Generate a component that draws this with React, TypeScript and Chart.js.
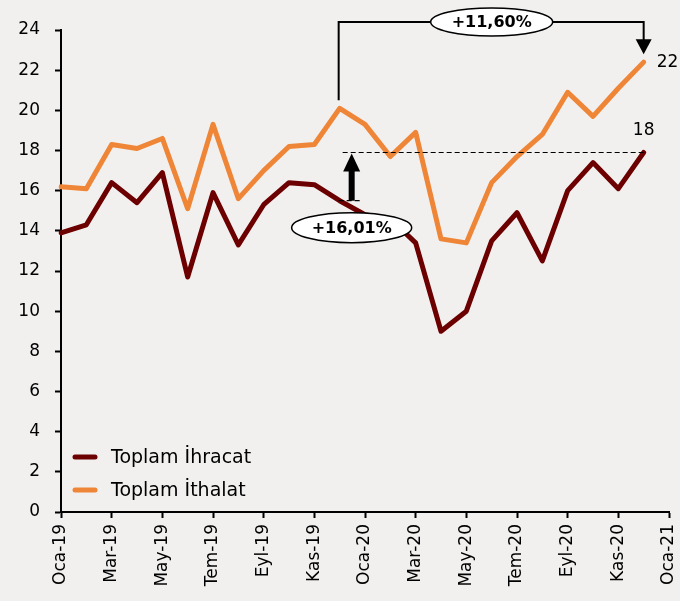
import React, { useEffect, useRef } from "react";
import { Chart, registerables } from "chart.js";

Chart.register(...registerables);

const months = [
  "Oca-19", "Şub-19", "Mar-19", "Nis-19", "May-19", "Haz-19", "Tem-19", "Ağu-19", "Eyl-19", "Eki-19", "Kas-19", "Ara-19",
  "Oca-20", "Şub-20", "Mar-20", "Nis-20", "May-20", "Haz-20", "Tem-20", "Ağu-20", "Eyl-20", "Eki-20", "Kas-20", "Ara-20",
  "Oca-21",
];
const exportsBn = [13.9, 14.3, 16.4, 15.4, 16.9, 11.7, 15.9, 13.3, 15.3, 16.4, 16.3, 15.5, 14.8, 14.6, 13.4, 9.0, 10.0, 13.5, 14.9, 12.5, 16.0, 17.4, 16.1, 17.9];
const importsBn = [16.2, 16.1, 18.3, 18.1, 18.6, 15.1, 19.3, 15.6, 17.0, 18.2, 18.3, 20.1, 19.3, 17.7, 18.9, 13.6, 13.4, 16.4, 17.7, 18.8, 20.9, 19.7, 21.1, 22.4];
const seriesNames = ["Toplam İhracat", "Toplam İthalat"];
const endLabels = ["18", "22"];
const changeLabels = ["+16,01%", "+11,60%"];
const compareFrom = 11;
const compareTo = 23;
const yMin = 0;
const yMax = 24;
const yStep = 2;

const DARK = "#6C0000";
const ORANGE = "#EF8536";
const BG = "#F2F0EF";
const FONT = "'DejaVu Sans', sans-serif";

function ellipseLabel(ctx: CanvasRenderingContext2D, cx: number, cy: number, rx: number, ry: number, text: string) {
  ctx.beginPath();
  ctx.ellipse(cx, cy, rx, ry, 0, 0, Math.PI * 2);
  ctx.fillStyle = "#fff";
  ctx.fill();
  ctx.lineWidth = 1.5;
  ctx.strokeStyle = "#000";
  ctx.stroke();
  ctx.fillStyle = "#000";
  ctx.font = `bold 16px ${FONT}`;
  ctx.textAlign = "center";
  ctx.textBaseline = "middle";
  ctx.fillText(text, cx, cy + 1);
}

const bgPlugin = {
  id: "bg",
  beforeDraw(chart: any) {
    const { ctx, width, height } = chart;
    ctx.save();
    ctx.fillStyle = BG;
    ctx.fillRect(0, 0, width, height);
    ctx.restore();
  },
};

const annotPlugin = {
  id: "annot",
  afterDatasetsDraw(chart: any) {
    const { ctx } = chart;
    const x = chart.scales.x;
    const y = chart.scales.y;
    const xs = x.getPixelForValue(compareFrom);
    const xe = x.getPixelForValue(compareTo);
    const yExpS = y.getPixelForValue(exportsBn[compareFrom]);
    const yExpE = y.getPixelForValue(exportsBn[compareTo]);
    const yImpS = y.getPixelForValue(importsBn[compareFrom]);
    const yImpE = y.getPixelForValue(importsBn[compareTo]);
    ctx.save();

    // dashed reference lines
    ctx.strokeStyle = "#000";
    ctx.lineWidth = 1.2;
    ctx.setLineDash([5, 3]);
    ctx.beginPath();
    ctx.moveTo(xs + 3, yExpE);
    ctx.lineTo(xe, yExpE);
    ctx.moveTo(xs - 1, yExpS);
    ctx.lineTo(xs + 21, yExpS);
    ctx.stroke();
    ctx.setLineDash([]);

    // up arrow
    const ax = xs + 12;
    ctx.fillStyle = "#000";
    ctx.fillRect(ax - 3, yExpE + 18, 6, yExpS - (yExpE + 18));
    ctx.beginPath();
    ctx.moveTo(ax, yExpE + 1);
    ctx.lineTo(ax - 8.5, yExpE + 19);
    ctx.lineTo(ax + 8.5, yExpE + 19);
    ctx.closePath();
    ctx.fill();

    ellipseLabel(ctx, ax, yExpS + 27, 60, 15, changeLabels[0]);

    // bracket
    const top = chart.chartArea.top - 8;
    ctx.strokeStyle = "#000";
    ctx.lineWidth = 2;
    ctx.beginPath();
    ctx.moveTo(xs - 1, yImpS - 8);
    ctx.lineTo(xs - 1, top);
    ctx.lineTo(xe, top);
    ctx.lineTo(xe, yImpE - 22);
    ctx.stroke();
    ctx.fillStyle = "#000";
    ctx.beginPath();
    ctx.moveTo(xe, yImpE - 8);
    ctx.lineTo(xe - 8, yImpE - 23);
    ctx.lineTo(xe + 8, yImpE - 23);
    ctx.closePath();
    ctx.fill();

    ellipseLabel(ctx, (xs + xe) / 2, top, 61, 14, changeLabels[1]);

    // end labels
    ctx.fillStyle = "#000";
    ctx.font = `17px ${FONT}`;
    ctx.textBaseline = "middle";
    ctx.textAlign = "left";
    ctx.fillText(endLabels[1], xe + 13, yImpE);
    ctx.textAlign = "center";
    ctx.fillText(endLabels[0], xe, yExpE - 22);

    // legend
    const colors = [DARK, ORANGE];
    const ly = [457, 490];
    const left = chart.chartArea.left;
    ctx.lineCap = "round";
    ctx.lineWidth = 5;
    ctx.font = `19px ${FONT}`;
    ctx.textAlign = "left";
    for (let i = 0; i < seriesNames.length; i++) {
      ctx.strokeStyle = colors[i];
      ctx.beginPath();
      ctx.moveTo(left + 14, ly[i]);
      ctx.lineTo(left + 34, ly[i]);
      ctx.stroke();
      ctx.fillStyle = "#000";
      ctx.fillText(seriesNames[i], left + 50, ly[i] + 1);
    }
    ctx.restore();
  },
};

export default function App() {
  const ref = useRef<HTMLCanvasElement | null>(null);
  useEffect(() => {
    if (!ref.current) return;
    const chart = new Chart(ref.current, {
      type: "line",
      data: {
        labels: months,
        datasets: [
          {
            label: seriesNames[0],
            data: exportsBn,
            borderColor: DARK,
            backgroundColor: DARK,
            borderWidth: 5,
            pointRadius: 0,
            tension: 0,
            borderJoinStyle: "round",
            borderCapStyle: "round",
          },
          {
            label: seriesNames[1],
            data: importsBn,
            borderColor: ORANGE,
            backgroundColor: ORANGE,
            borderWidth: 5,
            pointRadius: 0,
            tension: 0,
            borderJoinStyle: "round",
            borderCapStyle: "round",
          },
        ],
      },
      options: {
        responsive: false,
        animation: false,
        devicePixelRatio: 1,
        layout: { padding: { top: 30, right: 11, left: 0, bottom: 0 } },
        plugins: { legend: { display: false }, tooltip: { enabled: false } },
        scales: {
          x: {
            type: "category",
            offset: false,
            afterFit: (s: any) => {
              s.height = 89;
              s.paddingLeft = 0;
              s.paddingRight = 0;
            },
            grid: {
              drawOnChartArea: false,
              drawTicks: true,
              tickLength: 6,
              tickWidth: 2,
              tickColor: (c: any) => (c.index % 2 === 0 ? "#000" : "rgba(0,0,0,0)"),
            },
            border: { display: true, color: "#000", width: 2 },
            ticks: {
              autoSkip: false,
              maxRotation: 90,
              minRotation: 90,
              padding: 6,
              color: "#000",
              font: { family: FONT, size: 17 },
              callback: function (this: any, v: any, i: number) {
                return i % 2 === 0 ? months[i] : "";
              },
            },
          },
          y: {
            min: yMin,
            max: yMax,
            afterFit: (s: any) => {
              s.width = 61;
              s.paddingTop = 0;
              s.paddingBottom = 0;
            },
            grid: { drawOnChartArea: false, tickLength: 6, tickWidth: 2, tickColor: "#000" },
            border: { display: true, color: "#000", width: 2 },
            ticks: {
              stepSize: yStep,
              padding: 15,
              color: "#000",
              font: { family: FONT, size: 17 },
            },
          },
        },
      },
      plugins: [bgPlugin, annotPlugin],
    } as any);
    return () => chart.destroy();
  }, []);
  return (
    <div style={{ position: "absolute", left: 0, top: 0, width: 680, height: 601 }}>
      <canvas ref={ref} width={680} height={601} style={{ display: "block" }} />
    </div>
  );
}
